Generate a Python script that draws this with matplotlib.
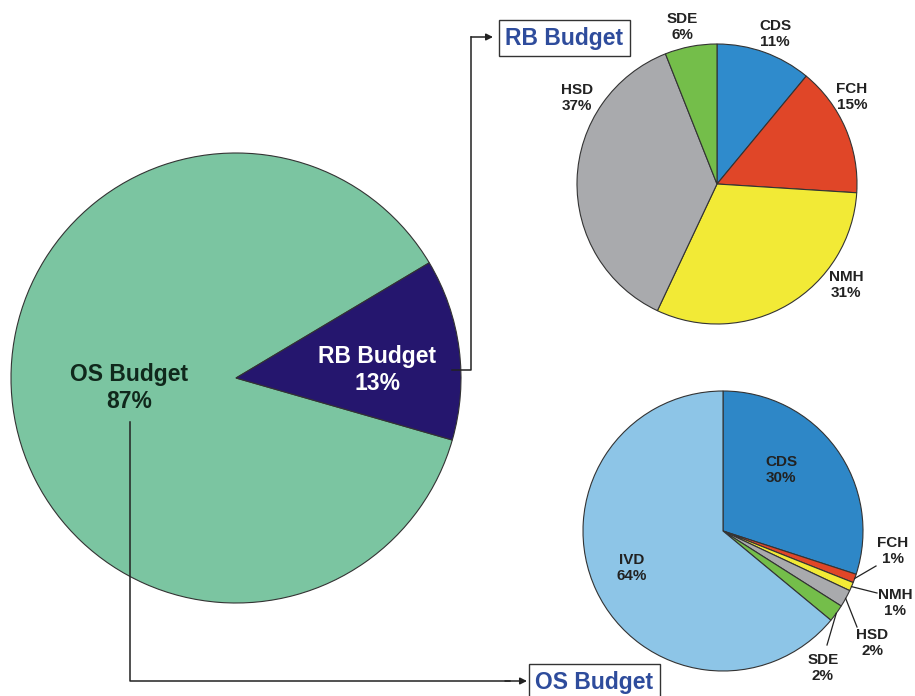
import numpy as np
import matplotlib
matplotlib.use("Agg")
import matplotlib.pyplot as plt

plt.rcParams['font.family'] = ['Liberation Sans', 'DejaVu Sans']

# main split
main_labels = ["OS Budget", "RB Budget"]
main_values = [87, 13]
main_colors = ["#7bc5a1", "#25166e"]

# RB budget breakdown
rb_labels = ["CDS", "FCH", "NMH", "HSD", "SDE"]
rb_values = [11, 15, 31, 37, 6]
rb_colors = ["#2f8bcc", "#e04628", "#f2ea36", "#a9aaad", "#74be4a"]

# OS budget breakdown
os_labels = ["CDS", "FCH", "NMH", "HSD", "SDE", "IVD"]
os_values = [30, 1, 1, 2, 2, 64]
os_colors = ["#2e87c7", "#e04628", "#f2ea36", "#a9aaad", "#74be4a", "#8dc5e7"]

W, H = 915, 696


def Y(v):
    # image pixel row -> axes y
    return H - v


fig = plt.figure(figsize=(9.15, 6.96), dpi=100)
ax = fig.add_axes([0, 0, 1, 1])

wedge_kw = dict(edgecolor="#333333", linewidth=0.8)

# big pie
ax.pie(main_values, colors=main_colors, startangle=30.8, counterclock=True,
       center=(236, Y(378)), radius=225, wedgeprops=wedge_kw, frame=True)
ax.text(129, Y(388), "%s\n%d%%" % (main_labels[0], main_values[0]), ha="center", va="center",
        fontsize=16.5, fontweight="bold", color="#10281c", linespacing=1.2)
ax.text(377, Y(370), "%s\n%d%%" % (main_labels[1], main_values[1]), ha="center", va="center",
        fontsize=16.5, fontweight="bold", color="white", linespacing=1.2)

# RB pie (top right)
rb_center = (717, Y(184))
ax.pie(rb_values, colors=rb_colors, startangle=90, counterclock=False,
       center=rb_center, radius=140, wedgeprops=wedge_kw, frame=True)
rb_pos = {"CDS": (775, 34), "FCH": (852, 97), "NMH": (846, 285), "HSD": (577, 98), "SDE": (682, 27)}
for lab, val in zip(rb_labels, rb_values):
    px, py = rb_pos[lab]
    ax.text(px, Y(py), "%s\n%d%%" % (lab, val), ha="center", va="center",
            fontsize=11, fontweight="bold", color="#222222", linespacing=1.15)

# OS pie (bottom right)
os_center = (723, Y(531))
os_r = 140
wedges, _ = ax.pie(os_values, colors=os_colors, startangle=90, counterclock=False,
                   center=os_center, radius=os_r, wedgeprops=wedge_kw, frame=True)
os_pos = {"CDS": (781, 470), "IVD": (632, 568), "FCH": (893, 551), "NMH": (895, 603),
          "HSD": (872, 643), "SDE": (823, 668)}
os_leader = {"FCH": (876, 566), "NMH": (877, 593), "HSD": (857, 627), "SDE": (827, 645)}
for w, lab, val in zip(wedges, os_labels, os_values):
    px, py = os_pos[lab]
    ax.text(px, Y(py), "%s\n%d%%" % (lab, val), ha="center", va="center",
            fontsize=11, fontweight="bold", color="#222222", linespacing=1.15)
    if lab in os_leader:
        mid = np.deg2rad((w.theta1 + w.theta2) / 2)
        ex = os_center[0] + os_r * np.cos(mid)
        ey = os_center[1] + os_r * np.sin(mid)
        lx, ly = os_leader[lab]
        ax.plot([ex, lx], [ey, Y(ly)], color="#222222", lw=0.9)

# connectors
ax.plot([452, 471, 471], [Y(370), Y(370), Y(37)], color="#222222", lw=1.1)
ax.annotate("", xy=(493, Y(37)), xytext=(471, Y(37)),
            arrowprops=dict(arrowstyle="-|>", color="#222222", lw=1.1, mutation_scale=10,
                            shrinkA=0, shrinkB=0))
ax.plot([130, 130, 510], [Y(422), Y(681), Y(681)], color="#222222", lw=1.1)
ax.annotate("", xy=(527, Y(681)), xytext=(505, Y(681)),
            arrowprops=dict(arrowstyle="-|>", color="#222222", lw=1.1, mutation_scale=10,
                            shrinkA=0, shrinkB=0))

# title boxes
box_kw = dict(boxstyle="square,pad=0.3", facecolor="white", edgecolor="#333333", lw=1.0)
ax.text(564.5, Y(38), "RB Budget", ha="center", va="center", fontsize=16.5, fontweight="bold",
        color="#2e4c9c", bbox=box_kw)
ax.text(594.5, Y(682), "OS Budget", ha="center", va="center", fontsize=16.5, fontweight="bold",
        color="#2e4c9c", bbox=box_kw)

ax.set_xlim(0, W)
ax.set_ylim(0, H)
ax.set_aspect("equal")
ax.axis("off")

fig.savefig("out.png", dpi=100)
